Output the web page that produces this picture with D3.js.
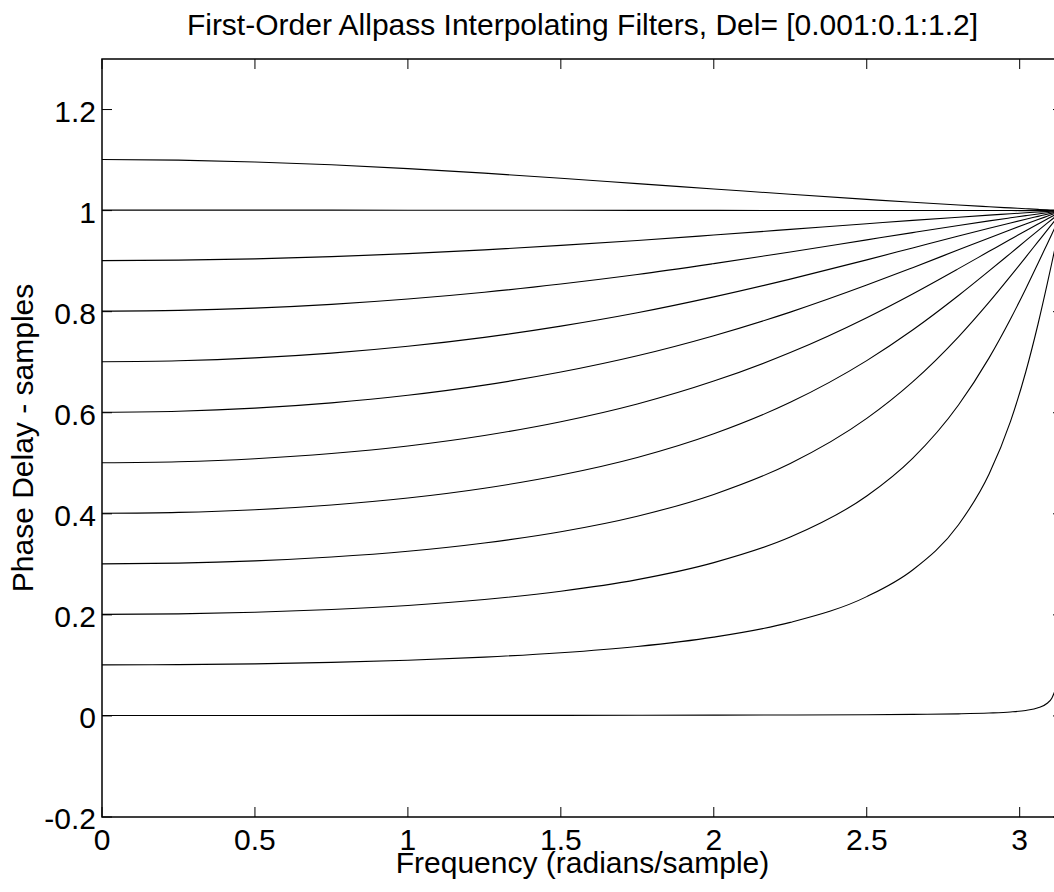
<!DOCTYPE html>
<head>
  <meta charset="utf-8">
  <title> Allpass phase delay </title>
  <script src="https://d3js.org/d3.v7.min.js"></script>
  <style type="text/css">
    body {margin: 0;}
    text {font-family: 'Liberation Sans', Arial, Helvetica, sans-serif; fill: #000;}
    .font30 {font-size: 30px;}
  </style>
</head>

<body>
  <div id="viz"></div>
</body>

<script type="text/javascript">

  const TITLE = "First-Order Allpass Interpolating Filters, Del= [0.001:0.1:1.2]";
  const XLABEL = "Frequency (radians/sample)";
  const YLABEL = "Phase Delay - samples";

  //frequencies (radians/sample) where the curves were read
  const freq = [0, 0.25, 0.5, 0.75, 1.0, 1.25, 1.5, 1.75, 2.0, 2.25, 2.5, 2.65, 2.8, 2.9, 2.97, 3.02, 3.06, 3.09, 3.105, 3.117];

  //phase delay, one array per Del value
  const del001 = [0.001, 0.001, 0.001, 0.001, 0.0011, 0.0012, 0.0012, 0.0014, 0.0016, 0.0019, 0.0024, 0.0030, 0.0041, 0.0057, 0.0078, 0.0109, 0.0160, 0.0251, 0.0352, 0.0521];
  const del101 = [0.101, 0.1015, 0.1031, 0.1060, 0.1102, 0.1164, 0.1251, 0.1375, 0.1560, 0.1851, 0.2361, 0.2889, 0.3784, 0.4786, 0.5828, 0.6811, 0.7756, 0.8548, 0.8963, 0.9302];
  const del201 = [0.201, 0.2020, 0.2051, 0.2105, 0.2186, 0.2304, 0.2468, 0.2698, 0.3034, 0.3539, 0.4352, 0.5098, 0.6154, 0.7086, 0.7855, 0.8455, 0.8957, 0.9341, 0.9533, 0.9687];
  const del301 = [0.301, 0.3024, 0.3068, 0.3145, 0.3258, 0.3422, 0.3645, 0.3952, 0.4384, 0.4996, 0.5888, 0.6611, 0.7503, 0.8189, 0.8704, 0.9081, 0.9386, 0.9614, 0.9727, 0.9817];
  const del401 = [0.401, 0.4028, 0.4081, 0.4175, 0.4312, 0.4506, 0.4767, 0.5114, 0.5583, 0.6206, 0.7031, 0.7636, 0.8319, 0.8806, 0.9155, 0.9405, 0.9604, 0.9751, 0.9824, 0.9882];
  const del501 = [0.501, 0.5030, 0.5089, 0.5192, 0.5343, 0.5550, 0.5822, 0.6173, 0.6626, 0.7191, 0.7881, 0.8351, 0.8852, 0.9194, 0.9433, 0.9602, 0.9735, 0.9834, 0.9883, 0.9921];
  const del601 = [0.601, 0.6030, 0.6091, 0.6195, 0.6345, 0.6546, 0.6805, 0.7127, 0.7524, 0.7991, 0.8526, 0.8871, 0.9224, 0.9459, 0.9621, 0.9734, 0.9823, 0.9889, 0.9922, 0.9948];
  const del701 = [0.701, 0.7029, 0.7085, 0.7180, 0.7315, 0.7492, 0.7714, 0.7978, 0.8292, 0.8644, 0.9025, 0.9261, 0.9497, 0.9651, 0.9756, 0.9829, 0.9886, 0.9929, 0.9950, 0.9966];
  const del801 = [0.801, 0.8025, 0.8070, 0.8145, 0.8250, 0.8384, 0.8548, 0.8735, 0.8951, 0.9181, 0.9421, 0.9564, 0.9705, 0.9796, 0.9857, 0.9900, 0.9934, 0.9959, 0.9971, 0.9980];
  const del901 = [0.901, 0.9019, 0.9045, 0.9089, 0.9148, 0.9223, 0.9311, 0.9407, 0.9516, 0.9628, 0.9740, 0.9806, 0.9869, 0.9910, 0.9937, 0.9956, 0.9971, 0.9982, 0.9987, 0.9991];
  const del1001 = [1.001, 1.001, 1.001, 1.0009, 1.0008, 1.0008, 1.0007, 1.0004, 1.0004, 1.0003, 1.0002, 1.0002, 1.0001, 1.0001, 1.0001, 1.0000, 1.0000, 1.0000, 1.0000, 1.0000];
  const del1101 = [1.101, 1.0998, 1.0962, 1.0906, 1.0830, 1.0741, 1.0641, 1.0533, 1.0428, 1.0323, 1.0222, 1.0164, 1.0110, 1.0076, 1.0053, 1.0037, 1.0024, 1.0015, 1.0011, 1.0007];

  const curves = [del001, del101, del201, del301, del401, del501, del601, del701, del801, del901, del1001, del1101];

  const xTicks = [0, 0.5, 1, 1.5, 2, 2.5, 3];
  const xTickLabels = ["0", "0.5", "1", "1.5", "2", "2.5", "3"];
  const yTicks = [-0.2, 0, 0.2, 0.4, 0.6, 0.8, 1, 1.2];
  const yTickLabels = ["-0.2", "0", "0.2", "0.4", "0.6", "0.8", "1", "1.2"];

  ////dimensions
  const FULLW = 1054;
  const FULLH = 892;
  const LEFT = 102, RIGHT = 1063, TOP = 59, BOTTOM = 817;
  const TICKLEN = 10;

  const scaleX = d3.scaleLinear().domain([0, Math.PI]).range([LEFT, RIGHT]);
  const scaleY = d3.scaleLinear().domain([-0.2, 1.3]).range([BOTTOM, TOP]);

  function drawChart() {
    const svg = d3.select("#viz")
      .append("svg")
      .attr("width", FULLW)
      .attr("height", FULLH);

    svg.append("rect")
      .attr("width", "100%")
      .attr("height", "100%")
      .attr("fill", "#fff");

    //curves
    const line = d3.line()
      .x(function (d, i) { return scaleX(freq[i]); })
      .y(function (d) { return scaleY(d); })
      .curve(d3.curveMonotoneX);

    svg.append("g")
      .selectAll("path")
      .data(curves)
      .join("path")
      .attr("d", line)
      .attr("fill", "none")
      .attr("stroke", "#000")
      .attr("stroke-width", 1.1);

    //box
    svg.append("rect")
      .attr("x", LEFT)
      .attr("y", TOP)
      .attr("width", RIGHT - LEFT)
      .attr("height", BOTTOM - TOP)
      .attr("fill", "none")
      .attr("stroke", "#000")
      .attr("stroke-width", 1.5);

    //inward ticks on all four sides
    const tickG = svg.append("g").attr("stroke", "#000").attr("stroke-width", 1);
    xTicks.forEach(function (t) {
      const x = scaleX(t);
      tickG.append("line").attr("x1", x).attr("x2", x).attr("y1", BOTTOM).attr("y2", BOTTOM - TICKLEN);
      tickG.append("line").attr("x1", x).attr("x2", x).attr("y1", TOP).attr("y2", TOP + TICKLEN);
    });
    yTicks.forEach(function (t) {
      const y = scaleY(t);
      tickG.append("line").attr("x1", LEFT).attr("x2", LEFT + TICKLEN).attr("y1", y).attr("y2", y);
      tickG.append("line").attr("x1", RIGHT).attr("x2", RIGHT - TICKLEN).attr("y1", y).attr("y2", y);
    });

    //tick labels
    svg.append("g")
      .selectAll("text")
      .data(xTicks)
      .join("text")
      .classed("font30", true)
      .attr("text-anchor", "middle")
      .attr("x", function (d) { return scaleX(d); })
      .attr("y", BOTTOM + 33)
      .text(function (d, i) { return xTickLabels[i]; });

    svg.append("g")
      .selectAll("text")
      .data(yTicks)
      .join("text")
      .classed("font30", true)
      .attr("text-anchor", "end")
      .attr("x", LEFT - 6)
      .attr("y", function (d) { return scaleY(d) + 12; })
      .text(function (d, i) { return yTickLabels[i]; });

    //labels and title
    svg.append("text")
      .classed("font30", true)
      .attr("text-anchor", "middle")
      .attr("x", (LEFT + RIGHT) / 2)
      .attr("y", 873)
      .text(XLABEL);

    svg.append("text")
      .classed("font30", true)
      .attr("text-anchor", "middle")
      .attr("transform", "translate(33," + ((TOP + BOTTOM) / 2) + ") rotate(-90)")
      .text(YLABEL);

    svg.append("text")
      .classed("font30", true)
      .attr("text-anchor", "middle")
      .attr("x", (LEFT + RIGHT) / 2)
      .attr("y", 35)
      .text(TITLE);
  }

  drawChart();

</script>

</html>
